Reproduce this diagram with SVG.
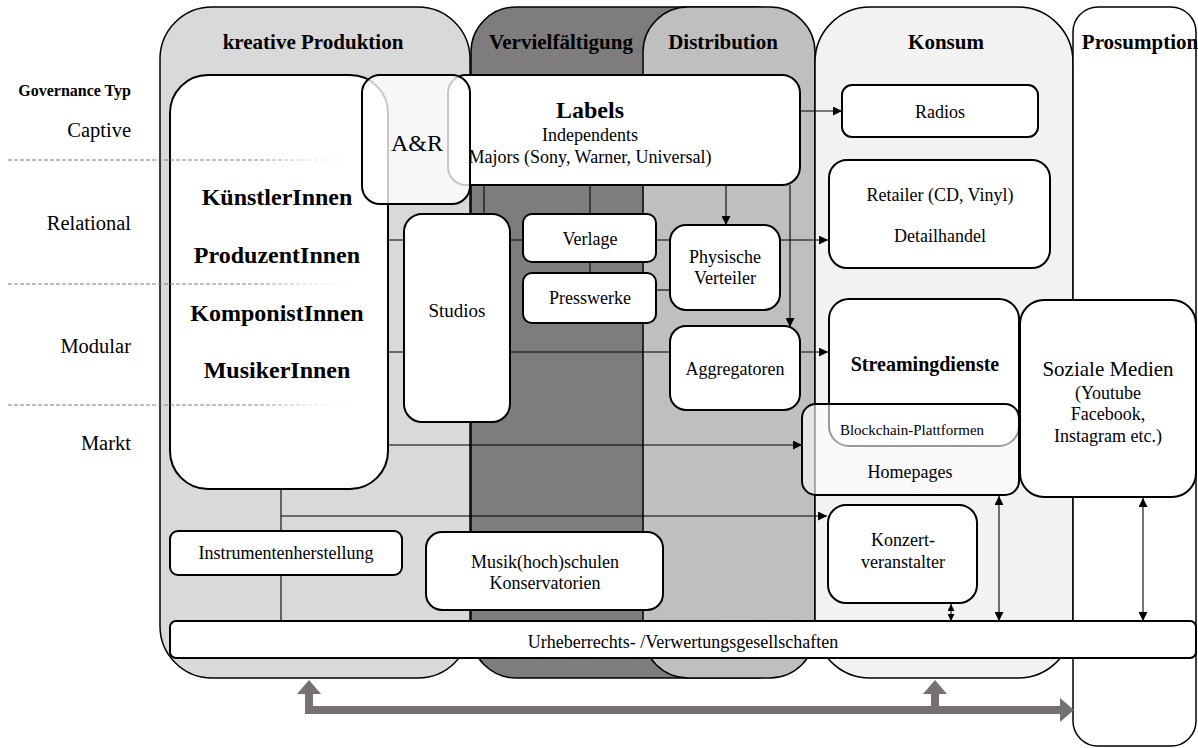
<svg xmlns="http://www.w3.org/2000/svg" width="1198" height="748" viewBox="0 0 1198 748" font-family="'Liberation Serif', 'Times New Roman', serif">
<defs>
<style>
text{font-family:'Liberation Serif','Times New Roman',serif;fill:#000;text-anchor:middle}
.hd{font-size:21px;font-weight:bold}
.lab{font-size:20.5px;text-anchor:end}
.big{font-size:24px;font-weight:bold}
.t18{font-size:18px}
.panel{stroke:#000;stroke-width:1.5}
.box{fill:#fff;stroke:#000;stroke-width:2}
.ln{stroke:#000;stroke-width:1.1;fill:none}
.dash{stroke:url(#fade);stroke-width:1;stroke-dasharray:4 2;fill:none}
.gray{stroke:#767171;stroke-width:8;fill:none}
</style>
<marker id="ah" viewBox="0 0 10 10" refX="10" refY="5" markerWidth="9" markerHeight="9" markerUnits="userSpaceOnUse" orient="auto-start-reverse">
<path d="M0,0 L10,5 L0,10 z" fill="#000"/>
</marker>
<marker id="ahs" viewBox="0 0 10 10" refX="10" refY="5" markerWidth="7" markerHeight="7" markerUnits="userSpaceOnUse" orient="auto-start-reverse">
<path d="M0,0 L10,5 L0,10 z" fill="#000"/>
</marker>
<linearGradient id="fade" gradientUnits="userSpaceOnUse" x1="8" y1="0" x2="365" y2="0">
<stop offset="0" stop-color="#777"/>
<stop offset="0.7" stop-color="#888"/>
<stop offset="1" stop-color="#fff" stop-opacity="0"/>
</linearGradient>
</defs>

<g id="panels">
<rect id="p-kreativ" class="panel" x="160" y="7" width="310" height="671" rx="52" fill="#d9d9d9"/>
<rect id="p-verv" class="panel" x="471" y="7" width="330" height="671" rx="45" fill="#7f7c7d"/>
<rect id="p-dist" class="panel" x="643" y="7" width="172" height="671" rx="45" fill="#bfbfbf"/>
<rect id="p-konsum" class="panel" x="815" y="7" width="258" height="671" rx="55" fill="#f2f2f2"/>
<rect id="p-prosum" class="panel" x="1073" y="7" width="123" height="739" rx="25" fill="#fff"/>
<text class="hd" x="313" y="49">kreative Produktion</text>
<text class="hd" x="561" y="49">Vervielfältigung</text>
<text class="hd" x="723" y="49">Distribution</text>
<text class="hd" x="946" y="49">Konsum</text>
<text class="hd" x="1140" y="49">Prosumption</text>
</g>

<g id="governance">
<text x="131" y="96" style="font-size:16px;font-weight:bold;text-anchor:end">Governance Typ</text>
<text class="lab" x="131" y="137">Captive</text>
<text class="lab" x="131" y="230">Relational</text>
<text class="lab" x="131" y="353">Modular</text>
<text class="lab" x="131" y="450">Markt</text>
</g>

<g id="connectors">
<line class="ln" x1="388" y1="240" x2="828" y2="240" marker-end="url(#ah)"/>
<line class="ln" x1="656" y1="290" x2="670" y2="290"/>
<line class="ln" x1="388" y1="352" x2="828" y2="352" marker-end="url(#ah)"/>
<line class="ln" x1="388" y1="445" x2="802" y2="445" marker-end="url(#ah)"/>
<line class="ln" x1="281" y1="489" x2="281" y2="621"/>
<line class="ln" x1="281" y1="516" x2="827" y2="516" marker-end="url(#ah)"/>
<line class="ln" x1="484" y1="185" x2="484" y2="214"/>
<line class="ln" x1="590" y1="185" x2="590" y2="273"/>
<line class="ln" x1="800" y1="111" x2="842" y2="111" marker-end="url(#ah)"/>
<line class="ln" x1="726" y1="185" x2="726" y2="225" marker-end="url(#ah)"/>
<line class="ln" x1="790" y1="185" x2="790" y2="327" marker-end="url(#ah)"/>
<line class="ln" x1="951" y1="604" x2="951" y2="621" marker-start="url(#ahs)" marker-end="url(#ahs)"/>
<line class="ln" x1="999" y1="496" x2="999" y2="621" marker-start="url(#ah)" marker-end="url(#ah)"/>
<line class="ln" x1="1143" y1="498" x2="1143" y2="621" marker-start="url(#ah)" marker-end="url(#ah)"/>
<path class="gray" d="M309,692 L309,710 L1060,710"/>
<path class="gray" d="M935,692 L935,710"/>
<path d="M309,680 L321,694 L297,694 z" fill="#767171"/>
<path d="M935,680 L947,694 L923,694 z" fill="#767171"/>
<path d="M1074,710 L1060,698 L1060,722 z" fill="#767171"/>
</g>

<g id="nodes">
<g id="n-kuenstler">
<rect class="box" x="170" y="75" width="218" height="414" rx="38"/>
<text class="big" x="277" y="205">KünstlerInnen</text>
<text class="big" x="277" y="263">ProduzentInnen</text>
<text class="big" x="277" y="321">KomponistInnen</text>
<text class="big" x="277" y="378">MusikerInnen</text>
</g>
<g id="n-labels">
<rect class="box" x="448" y="75" width="352" height="110" rx="18"/>
<text x="590" y="118" style="font-size:24px;font-weight:bold">Labels</text>
<text class="t18" x="590" y="141">Independents</text>
<text class="t18" x="590" y="163">Majors (Sony, Warner, Universal)</text>
</g>
<g id="n-ar">
<rect x="362" y="75" width="108" height="129" rx="18" fill="#fff" fill-opacity="0.78" stroke="#000" stroke-width="2"/>
<text x="417" y="151" style="font-size:24px">A&amp;R</text>
</g>
<g id="n-radios">
<rect class="box" x="842" y="85" width="196" height="52" rx="10"/>
<text class="t18" x="940" y="118">Radios</text>
</g>
<g id="n-retailer">
<rect class="box" x="829" y="160" width="221" height="108" rx="18"/>
<text class="t18" x="940" y="201">Retailer (CD, Vinyl)</text>
<text class="t18" x="940" y="242">Detailhandel</text>
</g>
<g id="n-studios">
<rect class="box" x="404" y="214" width="106" height="208" rx="18"/>
<text x="457" y="317" style="font-size:19px">Studios</text>
</g>
<g id="n-verlage">
<rect class="box" x="523" y="214" width="133" height="48" rx="9"/>
<text class="t18" x="590" y="245">Verlage</text>
</g>
<g id="n-presswerke">
<rect class="box" x="523" y="273" width="133" height="50" rx="9"/>
<text class="t18" x="590" y="304">Presswerke</text>
</g>
<g id="n-physisch">
<rect class="box" x="670" y="225" width="110" height="85" rx="16"/>
<text class="t18" x="725" y="263">Physische</text>
<text class="t18" x="725" y="284">Verteiler</text>
</g>
<g id="n-aggregatoren">
<rect class="box" x="670" y="326" width="130" height="84" rx="16"/>
<text class="t18" x="735" y="375">Aggregatoren</text>
</g>
<g id="n-streaming">
<rect x="829" y="299" width="190" height="147" rx="20" fill="#fff" stroke="#000" stroke-width="2"/>
<text x="925" y="371" style="font-size:20px;font-weight:bold">Streamingdienste</text>
</g>
<g id="n-homepages">
<rect x="802" y="404" width="217" height="91" rx="14" fill="#fff" fill-opacity="0.6" stroke="#000" stroke-width="2"/>
<text x="912" y="435" style="font-size:15px">Blockchain-Plattformen</text>
<text class="t18" x="910" y="478">Homepages</text>
</g>
<g id="n-sozial">
<rect class="box" x="1020" y="300" width="176" height="197" rx="24"/>
<text x="1108" y="376" style="font-size:21px">Soziale Medien</text>
<text class="t18" x="1108" y="399">(Youtube</text>
<text class="t18" x="1108" y="420">Facebook,</text>
<text class="t18" x="1108" y="442">Instagram etc.)</text>
</g>
<g id="n-konzert">
<rect class="box" x="828" y="505" width="149" height="98" rx="18"/>
<text class="t18" x="903" y="546">Konzert-</text>
<text class="t18" x="903" y="568">veranstalter</text>
</g>
<g id="n-instrumente">
<rect class="box" x="170" y="531" width="232" height="44" rx="8"/>
<text class="t18" x="286" y="559">Instrumentenherstellung</text>
</g>
<g id="n-musikschulen">
<rect class="box" x="426" y="532" width="237" height="78" rx="16"/>
<text class="t18" x="545" y="568">Musik(hoch)schulen</text>
<text class="t18" x="545" y="589">Konservatorien</text>
</g>
<g id="n-urheber">
<rect class="box" x="170" y="621" width="1026" height="37" rx="6"/>
<text class="t18" x="683" y="648">Urheberrechts- /Verwertungsgesellschaften</text>
</g>
</g>

<g id="separators">
<line class="dash" x1="8" y1="160" x2="365" y2="160"/>
<line class="dash" x1="8" y1="284" x2="365" y2="284"/>
<line class="dash" x1="8" y1="405" x2="365" y2="405"/>
</g>
</svg>
